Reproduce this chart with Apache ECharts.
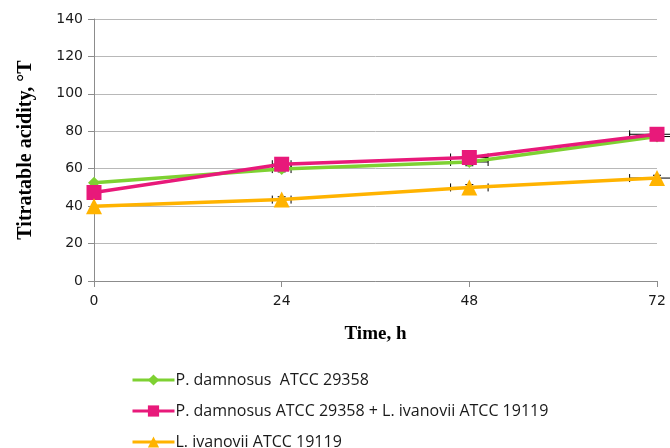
<!DOCTYPE html>
<html>
<head>
<meta charset="utf-8">
<script src="https://cdn.jsdelivr.net/npm/echarts@6/dist/echarts.min.js"></script>
<style>html,body{margin:0;padding:0;background:#fff;}#c{width:670px;height:448px;}</style>
</head>
<body>
<div id="c"></div>
<script>
var hours = [0, 24, 48, 72];
var yTicks = [0, 20, 40, 60, 80, 100, 120, 140];
var seriesNames = ['P. damnosus  ATCC 29358', 'P. damnosus ATCC 29358 + L. ivanovii ATCC 19119', 'L. ivanovii ATCC 19119'];
var damnosus = [52.5, 59.8, 63.6, 77.2];
var mixed = [47.3, 62.4, 66.0, 78.4];
var ivanovii = [40.0, 43.5, 50.0, 55.0];
var xErr = [0, 1.2, 2.4, 3.5];
var yErrDamnosus = [0, 1.5, 2, 2];
var yErrMixed = [0, 1.5, 2, 2.5];
var yErrIvanovii = [0, 1.5, 1.5, 1.5];

var colors = ['#7ED132', '#E8197A', '#FFB300'];

function errorData(vals, yErr) {
  return hours.map(function (h, i) { return [h, vals[i], xErr[i], yErr[i]]; });
}
function errRender(params, api) {
  var x = api.value(0), y = api.value(1), ex = api.value(2), ey = api.value(3);
  var ch = [];
  var st = { stroke: '#000', lineWidth: 1 };
  if (ex > 0) {
    var l = api.coord([x - ex, y]), r = api.coord([x + ex, y]);
    ch.push({ type: 'line', shape: { x1: l[0], y1: l[1], x2: r[0], y2: r[1] }, style: st });
    ch.push({ type: 'line', shape: { x1: l[0], y1: l[1] - 4, x2: l[0], y2: l[1] + 4 }, style: st });
    ch.push({ type: 'line', shape: { x1: r[0], y1: r[1] - 4, x2: r[0], y2: r[1] + 4 }, style: st });
  }
  if (ey > 0) {
    var t = api.coord([x, y + ey]), b = api.coord([x, y - ey]);
    ch.push({ type: 'line', shape: { x1: t[0], y1: t[1], x2: b[0], y2: b[1] }, style: st });
    ch.push({ type: 'line', shape: { x1: t[0] - 4, y1: t[1], x2: t[0] + 4, y2: t[1] }, style: st });
    ch.push({ type: 'line', shape: { x1: b[0] - 4, y1: b[1], x2: b[0] + 4, y2: b[1] }, style: st });
  }
  return { type: 'group', children: ch };
}
function lineSeries(name, vals, color, symbol, size) {
  return {
    name: name, type: 'line', data: hours.map(function (h, i) { return [h, vals[i]]; }),
    symbol: symbol, symbolSize: size,
    lineStyle: { color: color, width: 3.5 }, itemStyle: { color: color },
    z: 3
  };
}
function errSeries(vals, yErr) {
  return { type: 'custom', renderItem: errRender, data: errorData(vals, yErr), z: 2, silent: true };
}
function legendFor(name, top) {
  return {
    orient: 'horizontal', left: 126, top: top,
    itemWidth: 42, itemHeight: 14, itemGap: 0,
    data: [name], selectedMode: false,
    lineStyle: { width: 3 },
    textStyle: { fontFamily: 'Open Sans', fontSize: 16, color: '#1a1a1a', padding: [0, 0, 0, -4] }
  };
}

var chart = echarts.init(document.getElementById('c'));
chart.setOption({
  animation: false,
  color: colors,
  grid: { left: 94, right: 13, top: 19, bottom: 167 },
  xAxis: {
    type: 'value', min: 0, max: 72, interval: 24,
    name: 'Time, h', nameLocation: 'middle', nameGap: 44,
    nameTextStyle: { fontFamily: 'Liberation Serif', fontWeight: 'bold', fontSize: 19, color: '#000' },
    axisLine: { lineStyle: { color: '#8c8c8c' } },
    axisTick: { show: true, length: 6, lineStyle: { color: '#8c8c8c' } },
    axisLabel: { fontFamily: 'DejaVu Sans', fontSize: 14, color: '#1a1a1a', margin: 13 },
    splitLine: { show: false }
  },
  yAxis: {
    type: 'value', min: 0, max: 140, interval: 20,
    name: 'Titratable acidity, \u00B0T', nameLocation: 'middle', nameGap: 58,
    nameTextStyle: { fontFamily: 'Liberation Serif', fontWeight: 'bold', fontSize: 20, color: '#000' },
    axisLine: { show: true, lineStyle: { color: '#8c8c8c' } },
    axisTick: { show: true, length: 6, lineStyle: { color: '#8c8c8c' } },
    axisLabel: { fontFamily: 'DejaVu Sans', fontSize: 14, color: '#1a1a1a', margin: 11 },
    splitLine: { lineStyle: { color: '#b8b8b8' } }
  },
  legend: [legendFor(seriesNames[0], 367), legendFor(seriesNames[1], 398), legendFor(seriesNames[2], 429)],
  series: [
    errSeries(damnosus, yErrDamnosus),
    errSeries(mixed, yErrMixed),
    errSeries(ivanovii, yErrIvanovii),
    lineSeries(seriesNames[0], damnosus, colors[0], 'diamond', 12),
    lineSeries(seriesNames[1], mixed, colors[1], 'rect', 15),
    lineSeries(seriesNames[2], ivanovii, colors[2], 'triangle', 16)
  ]
});
</script>
</body>
</html>
